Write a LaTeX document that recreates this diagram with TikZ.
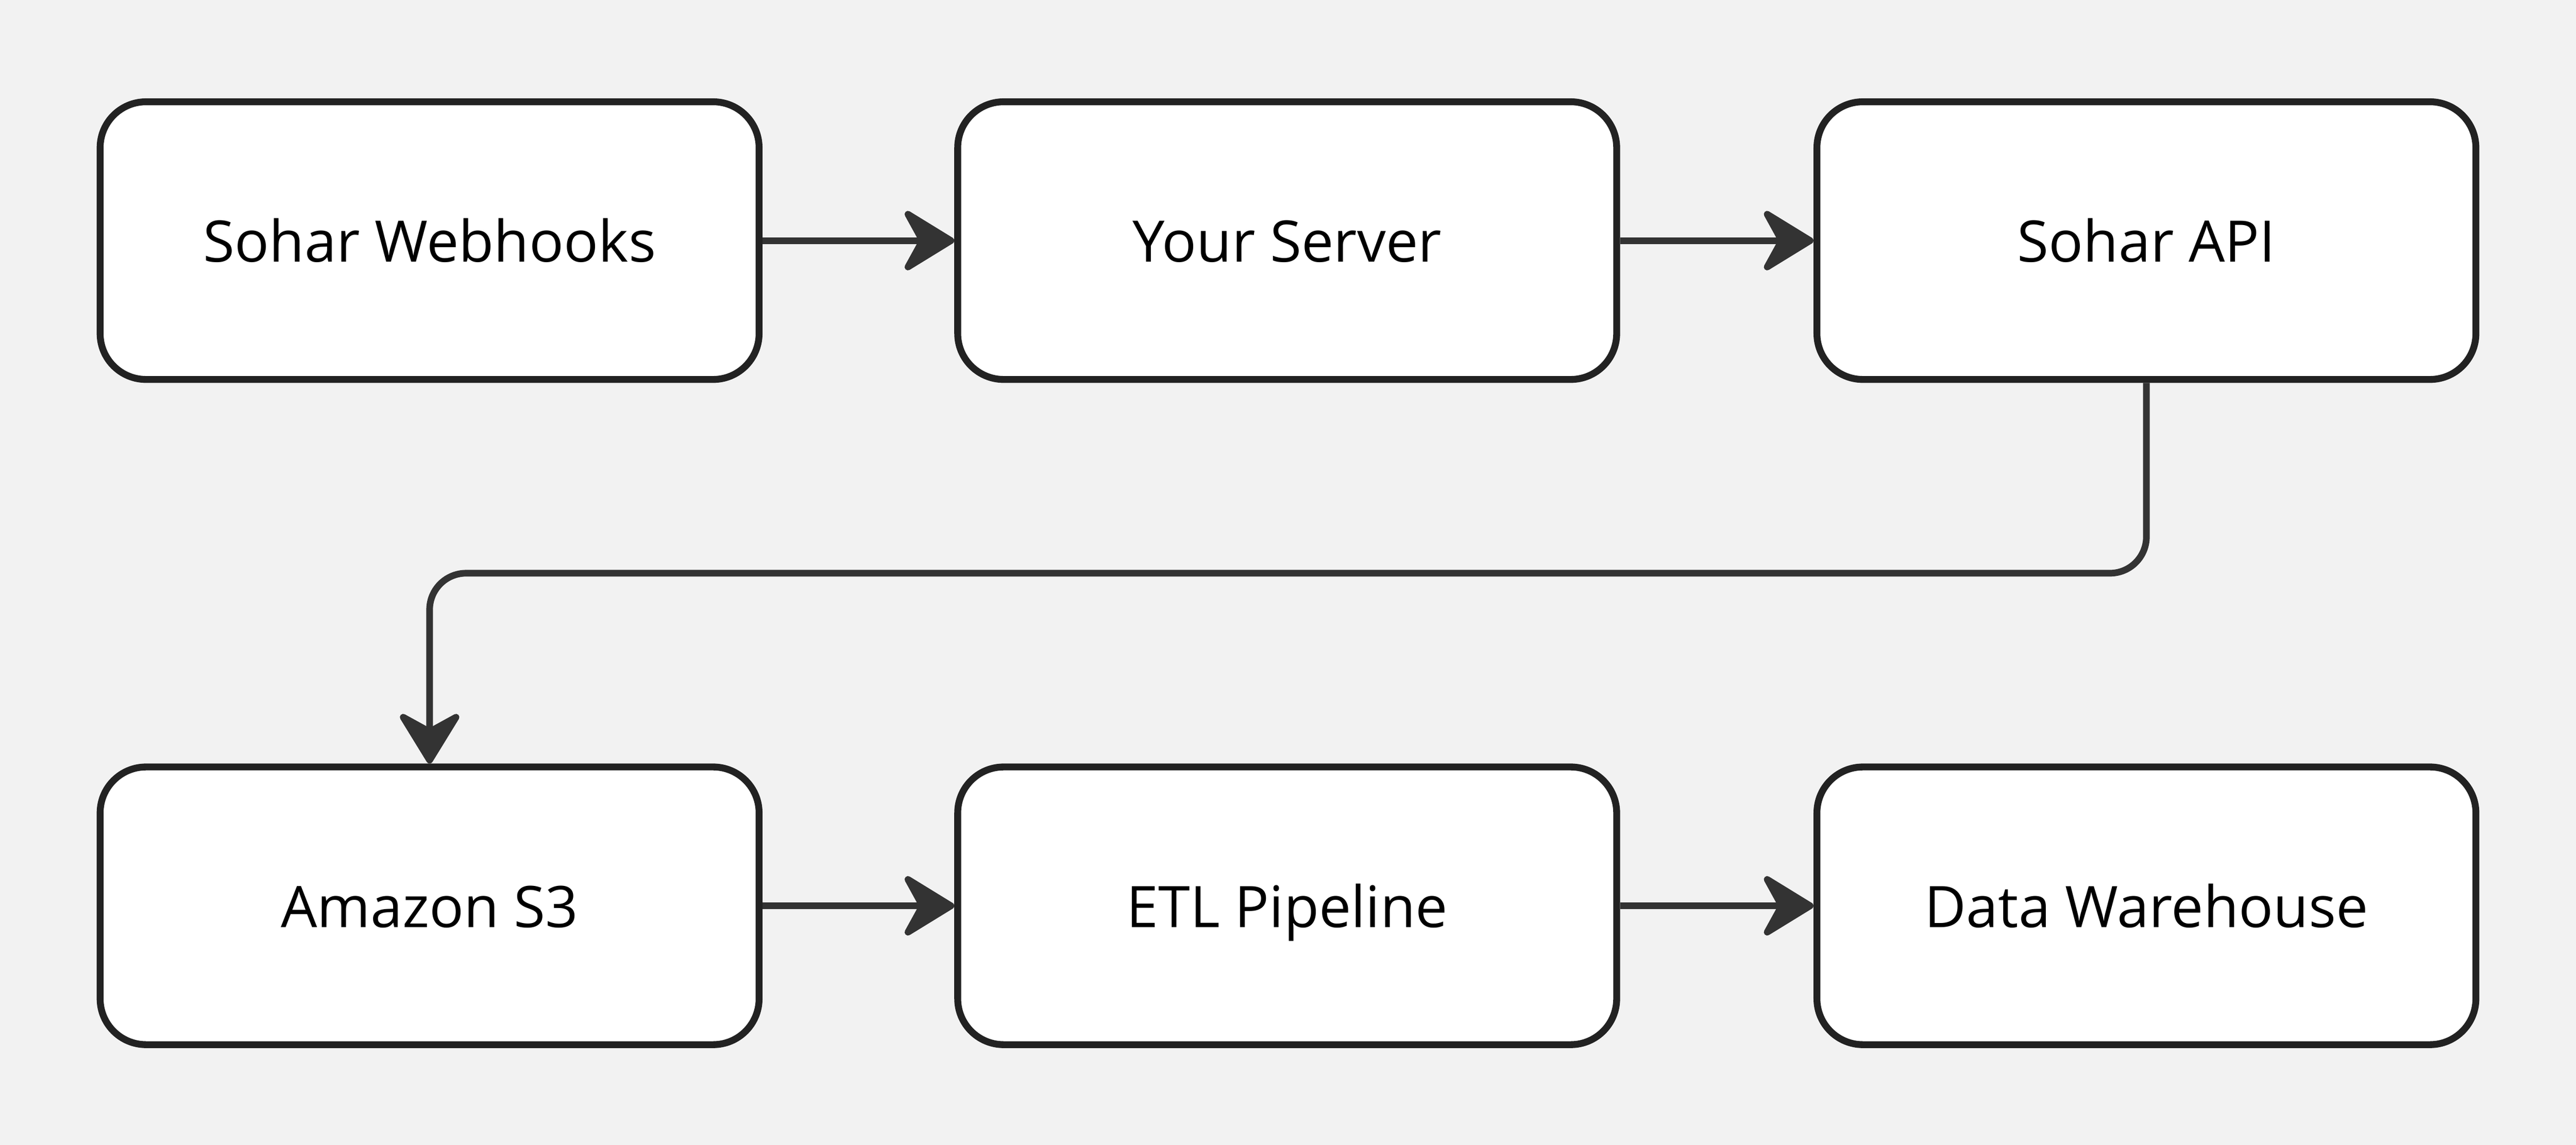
\documentclass[tikz,border=0pt]{standalone}
\usepackage{fontspec}
\setmainfont{Open Sans}
\usetikzlibrary{arrows.meta}
\definecolor{bg}{HTML}{F2F2F2}
\definecolor{ln}{HTML}{222222}
\definecolor{ar}{HTML}{333333}
\begin{document}
\begin{tikzpicture}[x=0.03827cm,y=-0.03827cm,
  box/.style={draw=ln,fill=white,line width=0.16cm,rounded corners=1.07cm,minimum width=15.35cm,minimum height=6.47cm,inner sep=0,text height=1.1cm,text depth=0.1cm,font=\fontsize{38}{42}\selectfont},
  conn/.style={draw=ar,line width=0.155cm,-{Stealth[length=1.35cm,width=1.65cm,inset=0.45cm,round]}}]
\fill[bg] (0,0) rectangle (1568,697);
\useasboundingbox (0,0) rectangle (1568,697);
\node[box] (a) at (261.5,146.5) {Sohar Webhooks};
\node[box] (b) at (783.5,146.5) {Your Server};
\node[box] (c) at (1306.5,146.5) {Sohar API};
\node[box] (d) at (261.5,551.5) {Amazon S3};
\node[box] (e) at (783.5,551.5) {ETL Pipeline};
\node[box] (f) at (1306.5,551.5) {Data Warehouse};
\draw[conn] (a) -- (b);
\draw[conn] (b) -- (c);
\draw[conn] (d) -- (e);
\draw[conn] (e) -- (f);
\draw[conn,rounded corners=0.85cm] (c.south) -- (1306.5,349) -- (261.5,349) -- (d.north);
\end{tikzpicture}
\end{document}
